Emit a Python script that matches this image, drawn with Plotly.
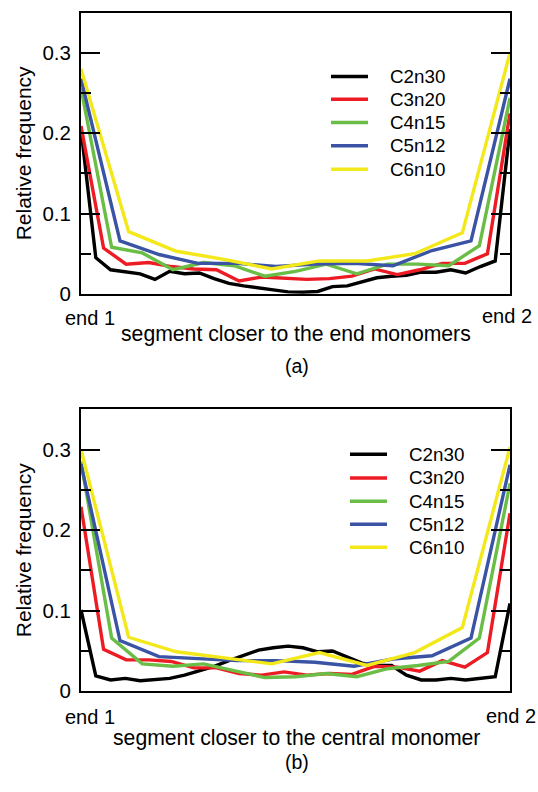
import plotly.graph_objects as go

# ---------------- data ----------------
series_names = ["C2n30", "C3n20", "C4n15", "C5n12", "C6n10"]
series_colors = ["#000000", "#ed1c24", "#6abd45", "#3a53a4", "#f2e81a"]

# panel (a): segment closer to the end monomers
a_C2n30 = [0.205, 0.045, 0.030, 0.027, 0.025, 0.018, 0.028, 0.025, 0.026, 0.019,
           0.013, 0.010, 0.007, 0.005, 0.0025, 0.002, 0.003, 0.009, 0.010, 0.015,
           0.020, 0.022, 0.023, 0.027, 0.027, 0.030, 0.026, 0.034, 0.041, 0.205]
a_C3n20 = [0.209, 0.057, 0.037, 0.039, 0.034, 0.031, 0.030, 0.016, 0.021, 0.020,
           0.018, 0.019, 0.022, 0.031, 0.024, 0.030, 0.038, 0.038, 0.050, 0.225]
a_C4n15 = [0.256, 0.058, 0.051, 0.030, 0.039, 0.035, 0.022, 0.028, 0.037, 0.025,
           0.037, 0.037, 0.035, 0.060, 0.244]
a_C5n12 = [0.268, 0.066, 0.049, 0.038, 0.038, 0.034, 0.037, 0.038, 0.035, 0.054,
           0.066, 0.268]
a_C6n10 = [0.280, 0.0775, 0.053, 0.043, 0.031, 0.041, 0.041, 0.050, 0.076, 0.300]

# panel (b): segment closer to the central monomer
b_C2n30 = [0.101, 0.019, 0.014, 0.016, 0.013, 0.014, 0.016, 0.020, 0.025, 0.031,
           0.038, 0.045, 0.051, 0.054, 0.056, 0.054, 0.049, 0.050, 0.043, 0.035,
           0.032, 0.032, 0.020, 0.014, 0.014, 0.016, 0.014, 0.016, 0.018, 0.109]
b_C3n20 = [0.229, 0.052, 0.039, 0.039, 0.037, 0.029, 0.029, 0.022, 0.020, 0.024,
           0.020, 0.022, 0.021, 0.031, 0.030, 0.025, 0.038, 0.030, 0.048, 0.221]
b_C4n15 = [0.285, 0.066, 0.034, 0.031, 0.034, 0.025, 0.017, 0.018, 0.022, 0.018,
           0.028, 0.032, 0.037, 0.066, 0.258]
b_C5n12 = [0.282, 0.063, 0.043, 0.040, 0.038, 0.038, 0.036, 0.031, 0.040, 0.044,
           0.066, 0.281]
b_C6n10 = [0.300, 0.067, 0.049, 0.042, 0.034, 0.048, 0.032, 0.048, 0.079, 0.303]

panel_a = [a_C2n30, a_C3n20, a_C4n15, a_C5n12, a_C6n10]
panel_b = [b_C2n30, b_C3n20, b_C4n15, b_C5n12, b_C6n10]

y_tickvals = [0, 0.1, 0.2, 0.3]
y_ticktext = ["0", "0.1", "0.2", "0.3"]
x_end_labels = ["end 1", "end 2"]
x_titles = ["segment closer to the end monomers", "segment closer to the central monomer"]
panel_labels = ["(a)", "(b)"]
y_title = "Relative frequency"

# ---------------- layout helpers ----------------
W, H = 538, 792
FONT = "Liberation Sans, Arial, Helvetica, sans-serif"


def px(xp):
    return xp / W


def py(yp):
    return 1 - yp / H


def norm_x(vals):
    n = len(vals)
    return [i / (n - 1) for i in range(n)]


fig = go.Figure()

for vals, name, col in zip(panel_a, series_names, series_colors):
    fig.add_trace(go.Scatter(x=norm_x(vals), y=vals, mode="lines", name=name,
                             line=dict(color=col, width=3.4), showlegend=False,
                             xaxis="x", yaxis="y"))
for vals, name, col in zip(panel_b, series_names, series_colors):
    fig.add_trace(go.Scatter(x=norm_x(vals), y=vals, mode="lines", name=name,
                             line=dict(color=col, width=3.4), showlegend=False,
                             xaxis="x2", yaxis="y2"))

x_dom = [px(81), px(510)]
ya_dom = [py(298), py(13)]
yb_dom = [py(701), py(415)]

xaxis_common = dict(range=[0, 1], showline=True, linecolor="black", linewidth=2,
                    mirror=True, ticks="", showticklabels=False, showgrid=False,
                    zeroline=False, domain=x_dom, fixedrange=True)
yaxis_common = dict(range=[0, 0.35], showline=True, linecolor="black", linewidth=2,
                    mirror="allticks", ticks="inside", ticklen=19, tickwidth=2,
                    tickcolor="black", tickvals=y_tickvals, ticktext=y_ticktext,
                    tickfont=dict(family=FONT, size=20.5, color="black"),
                    minor=dict(ticks="inside", ticklen=10, tickwidth=2, tickcolor="black",
                               tickvals=[0.05, 0.15, 0.25]),
                    showgrid=False, zeroline=False, fixedrange=True,
                    ticklabelstandoff=4)

fig.update_layout(
    width=W, height=H,
    margin=dict(l=0, r=0, t=0, b=0),
    paper_bgcolor="white", plot_bgcolor="white",
    font=dict(family=FONT, color="black"),
    xaxis=dict(**xaxis_common, anchor="y"),
    yaxis=dict(**yaxis_common, domain=ya_dom, anchor="x"),
    xaxis2=dict(**xaxis_common, anchor="y2"),
    yaxis2=dict(**yaxis_common, domain=yb_dom, anchor="x2"),
)

annotations = []
shapes = []

panels = [
    dict(top=13, bottom=298, end_y=[322, 320], title_y=339, lab_y=371,
         leg_x0=331, leg_x1=368, leg_tx=388, leg_rows=[77.7, 100.7, 124.3, 147.7, 171.7]),
    dict(top=415, bottom=701, end_y=[727, 726], title_y=748, lab_y=773,
         leg_x0=350, leg_x1=387, leg_tx=407, leg_rows=[460.7, 484.7, 508.3, 531.7, 555.0]),
]

for k, p in enumerate(panels):
    # end labels
    annotations.append(dict(text=x_end_labels[0], x=px(63), y=py(p["end_y"][0]),
                            xref="paper", yref="paper", xanchor="left", yanchor="middle",
                            showarrow=False, font=dict(family=FONT, size=20)))
    annotations.append(dict(text=x_end_labels[1], x=px(534 if k == 0 else 538), y=py(p["end_y"][1]),
                            xref="paper", yref="paper", xanchor="right", yanchor="middle",
                            showarrow=False, font=dict(family=FONT, size=20)))
    # x title
    annotations.append(dict(text=x_titles[k], x=px(296), y=py(p["title_y"]),
                            xref="paper", yref="paper", xanchor="center", yanchor="middle",
                            showarrow=False, font=dict(family=FONT, size=21.2)))
    # panel label
    annotations.append(dict(text=panel_labels[k], x=px(297), y=py(p["lab_y"]),
                            xref="paper", yref="paper", xanchor="center", yanchor="middle",
                            showarrow=False, font=dict(family=FONT, size=19.5)))
    # y title
    annotations.append(dict(text=y_title, x=px(23), y=py((p["top"] + p["bottom"]) / 2),
                            xref="paper", yref="paper", xanchor="center", yanchor="middle",
                            textangle=-90, showarrow=False, font=dict(family=FONT, size=21)))
    # legend
    for name, col, row in zip(series_names, series_colors, p["leg_rows"]):
        shapes.append(dict(type="line", xref="paper", yref="paper",
                           x0=px(p["leg_x0"]), x1=px(p["leg_x1"]), y0=py(row), y1=py(row),
                           line=dict(color=col, width=3.5)))
        annotations.append(dict(text=name, x=px(p["leg_tx"]), y=py(row),
                                xref="paper", yref="paper", xanchor="left", yanchor="middle",
                                showarrow=False, font=dict(family=FONT, size=18.8)))

fig.update_layout(annotations=annotations, shapes=shapes)

fig.write_html("out.html")
